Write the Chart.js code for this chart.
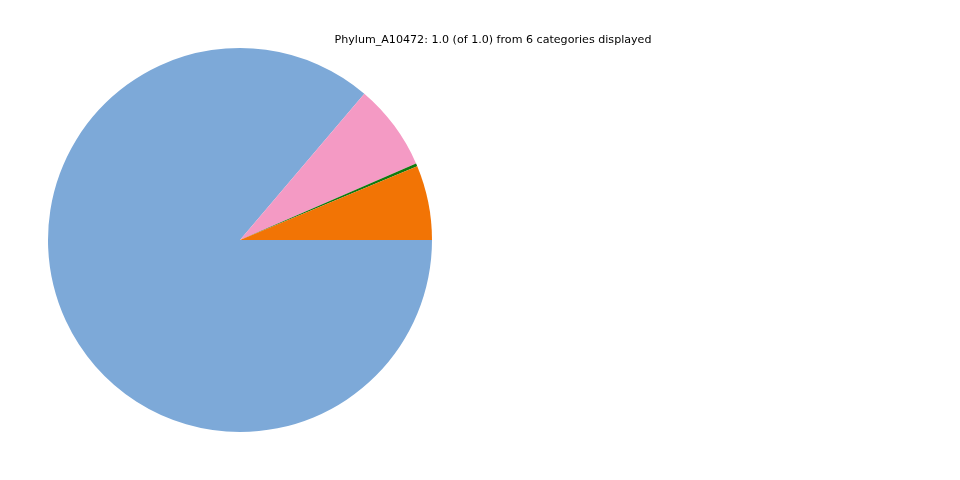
<!DOCTYPE html>
<html>
<head>
<meta charset="utf-8">
<script src="https://cdn.jsdelivr.net/npm/chart.js@4"></script>
<style>
  html, body { margin: 0; padding: 0; background: #fff; }
  #wrap { width: 960px; height: 480px; }
</style>
</head>
<body>
<div id="wrap"><canvas id="pie" width="960" height="480"></canvas></div>
<script>
// categories in matplotlib order (counterclockwise from 3 o'clock)
const categories = ['Cat_1', 'Cat_2', 'Cat_3', 'Cat_4', 'Cat_5', 'Cat_6'];
const values = [0.0628, 0.0025, 0.0726, 0.8621, 0, 0];
const colors = ['#f27405', '#0f7a0f', '#f49ac4', '#7da9d8', '#cccccc', '#999999'];
const titleText = 'Phylum_A10472: 1.0 (of 1.0) from 6 categories displayed';

// Chart.js draws clockwise, so reverse to get counterclockwise order
const labels = categories.slice().reverse();
const data = values.slice().reverse();
const bg = colors.slice().reverse();

const titlePlugin = {
  id: 'figTitle',
  afterDraw(chart) {
    const ctx = chart.ctx;
    ctx.save();
    ctx.font = '11.1px "DejaVu Sans"';
    ctx.fillStyle = '#000';
    ctx.textAlign = 'center';
    ctx.textBaseline = 'middle';
    ctx.fillText(titleText, 493, 40);
    ctx.restore();
  }
};

new Chart(document.getElementById('pie'), {
  type: 'pie',
  data: {
    labels: labels,
    datasets: [{
      data: data,
      backgroundColor: bg,
      borderWidth: 0,
    }],
  },
  options: {
    responsive: false,
    animation: false,
    rotation: 90,
    layout: { padding: { left: 48, right: 528, top: 48, bottom: 48 } },
    plugins: {
      legend: { display: false },
      tooltip: { enabled: false },
      title: { display: false },
    },
  },
  plugins: [titlePlugin],
});
</script>
</body>
</html>
